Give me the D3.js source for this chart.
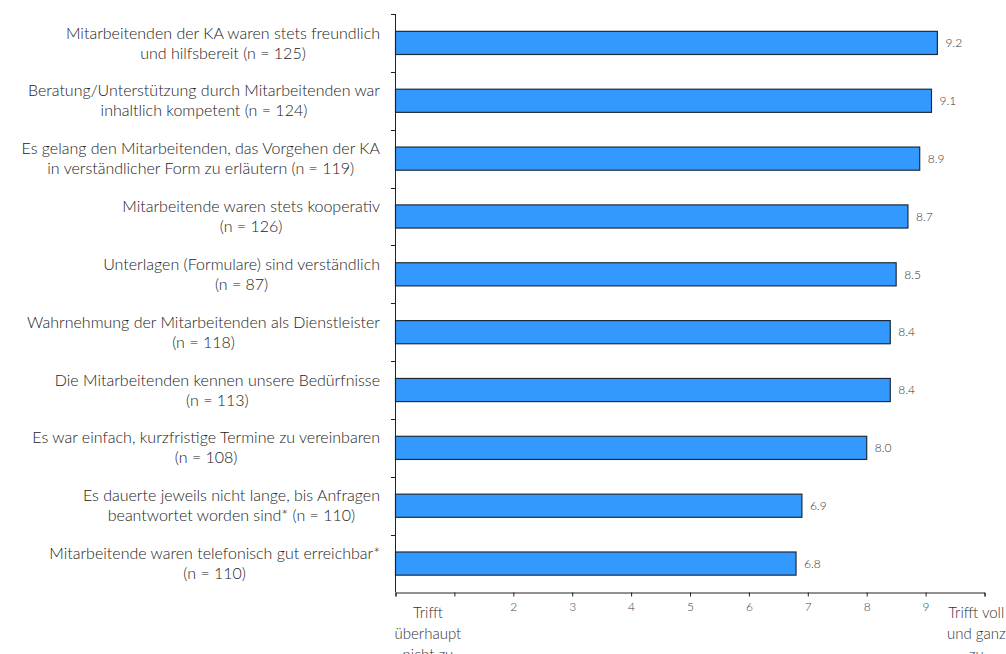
<!DOCTYPE html>
<html>
<head>
<meta charset="utf-8">
<script src="https://cdn.jsdelivr.net/npm/d3@7"></script>
<style>
  html, body { margin: 0; padding: 0; background: #fff; }
  svg { display: block; }
  text { font-family: "Lato", "Open Sans", sans-serif; font-weight: 300; }
</style>
</head>
<body>
<svg id="chart" width="1006" height="654"></svg>
<script>
// Statements (two lines each) with sample size
const categories = [
  ["Mitarbeitenden der KA waren stets freundlich", "und hilfsbereit (n = 125)"],
  ["Beratung/Unterstützung durch Mitarbeitenden war", "inhaltlich kompetent (n = 124)"],
  ["Es gelang den Mitarbeitenden, das Vorgehen der KA", "in verständlicher Form zu erläutern (n = 119)"],
  ["Mitarbeitende waren stets kooperativ", "(n = 126)"],
  ["Unterlagen (Formulare) sind verständlich", "(n = 87)"],
  ["Wahrnehmung der Mitarbeitenden als Dienstleister", "(n = 118)"],
  ["Die Mitarbeitenden kennen unsere Bedürfnisse", "(n = 113)"],
  ["Es war einfach, kurzfristige Termine zu vereinbaren", "(n = 108)"],
  ["Es dauerte jeweils nicht lange, bis Anfragen", "beantwortet worden sind* (n = 110)"],
  ["Mitarbeitende waren telefonisch gut erreichbar*", "(n = 110)"]
];
const values = [9.2, 9.1, 8.9, 8.7, 8.5, 8.4, 8.4, 8.0, 6.9, 6.8];
const valueLabels = ["9.2", "9.1", "8.9", "8.7", "8.5", "8.4", "8.4", "8.0", "6.9", "6.8"];

// Scale ticks 0..10; 1 and 10 carry verbal anchors
const tickValues = [0, 1, 2, 3, 4, 5, 6, 7, 8, 9, 10];
const tickLabels = ["", "", "2", "3", "4", "5", "6", "7", "8", "9", ""];
const lowAnchor = ["Trifft", "überhaupt", "nicht zu"];
const highAnchor = ["Trifft voll", "und ganz", "zu"];

const svg = d3.select("#chart");

const x = d3.scaleLinear().domain([0, 10]).range([395.5, 984.5]);
const y = d3.scaleBand()
  .domain(d3.range(categories.length))
  .range([14, 592.5])
  .paddingInner(0.6)
  .paddingOuter(0.3);

// Bars
svg.append("g").selectAll("rect")
  .data(values)
  .join("rect")
  .attr("x", x(0))
  .attr("y", (d, i) => y(i))
  .attr("width", d => x(d) - x(0))
  .attr("height", y.bandwidth())
  .attr("fill", "#3399ff")
  .attr("stroke", "#1e2b3a")
  .attr("stroke-width", 1.2);

// Value labels
svg.append("g").selectAll("text")
  .data(values)
  .join("text")
  .attr("x", d => x(d) + 8)
  .attr("y", (d, i) => y(i) + y.bandwidth() / 2)
  .attr("dy", "0.35em")
  .attr("font-size", 12)
  .attr("fill", "#333")
  .text((d, i) => valueLabels[i]);

// Category labels: each line centred, block right-aligned to the axis
const lab = svg.append("g").selectAll("text")
  .data(categories)
  .join("text")
  .attr("text-anchor", "middle")
  .attr("font-size", 16)
  .attr("fill", "#222");
lab.each(function(lines, i) {
  const cy = y(i) + y.bandwidth() / 2;
  const t = d3.select(this);
  lines.forEach((ln, k) => {
    t.append("tspan").text(ln).attr("y", cy + (k - 0.5) * 20).attr("dy", "0.35em");
  });
  const spans = t.selectAll("tspan").nodes();
  const w = d3.max(spans, s => s.getComputedTextLength());
  t.selectAll("tspan").attr("x", 380 - w / 2);
});

// Y axis: line plus ticks at category boundaries
const bandTop = i => y(i) - (y.step() - y.bandwidth()) / 2;
const boundaries = [14].concat(d3.range(1, categories.length).map(bandTop));
const yAxisG = svg.append("g");
yAxisG.append("line")
  .attr("x1", 395.5).attr("x2", 395.5)
  .attr("y1", 14).attr("y2", 592.5)
  .attr("stroke", "#222");
yAxisG.selectAll("line.tk")
  .data(boundaries)
  .join("line")
  .attr("class", "tk")
  .attr("x1", 391).attr("x2", 395.5)
  .attr("y1", d => Math.round(d) + 0.5).attr("y2", d => Math.round(d) + 0.5)
  .attr("stroke", "#222");

// X axis
const xAxis = d3.axisBottom(x)
  .tickValues(tickValues)
  .tickSize(4)
  .tickFormat((d, i) => tickLabels[i]);
const xg = svg.append("g")
  .attr("transform", "translate(0,592.5)")
  .call(xAxis);
xg.select(".domain").attr("stroke", "#222");
xg.selectAll(".tick line").attr("stroke", "#222");
xg.selectAll(".tick text")
  .attr("font-family", "Lato, sans-serif")
  .attr("font-weight", 300)
  .attr("font-size", 12)
  .attr("fill", "#444")
  .attr("y", 10);

// Verbal anchors of the scale
function anchor(lines, cx) {
  const t = svg.append("text")
    .attr("text-anchor", "middle")
    .attr("font-size", 15)
    .attr("fill", "#333");
  lines.forEach((ln, k) => {
    t.append("tspan").attr("x", cx).attr("y", 618 + k * 21).text(ln);
  });
}
anchor(lowAnchor, x(0.55));
anchor(highAnchor, x(9.86));
</script>
</body>
</html>
